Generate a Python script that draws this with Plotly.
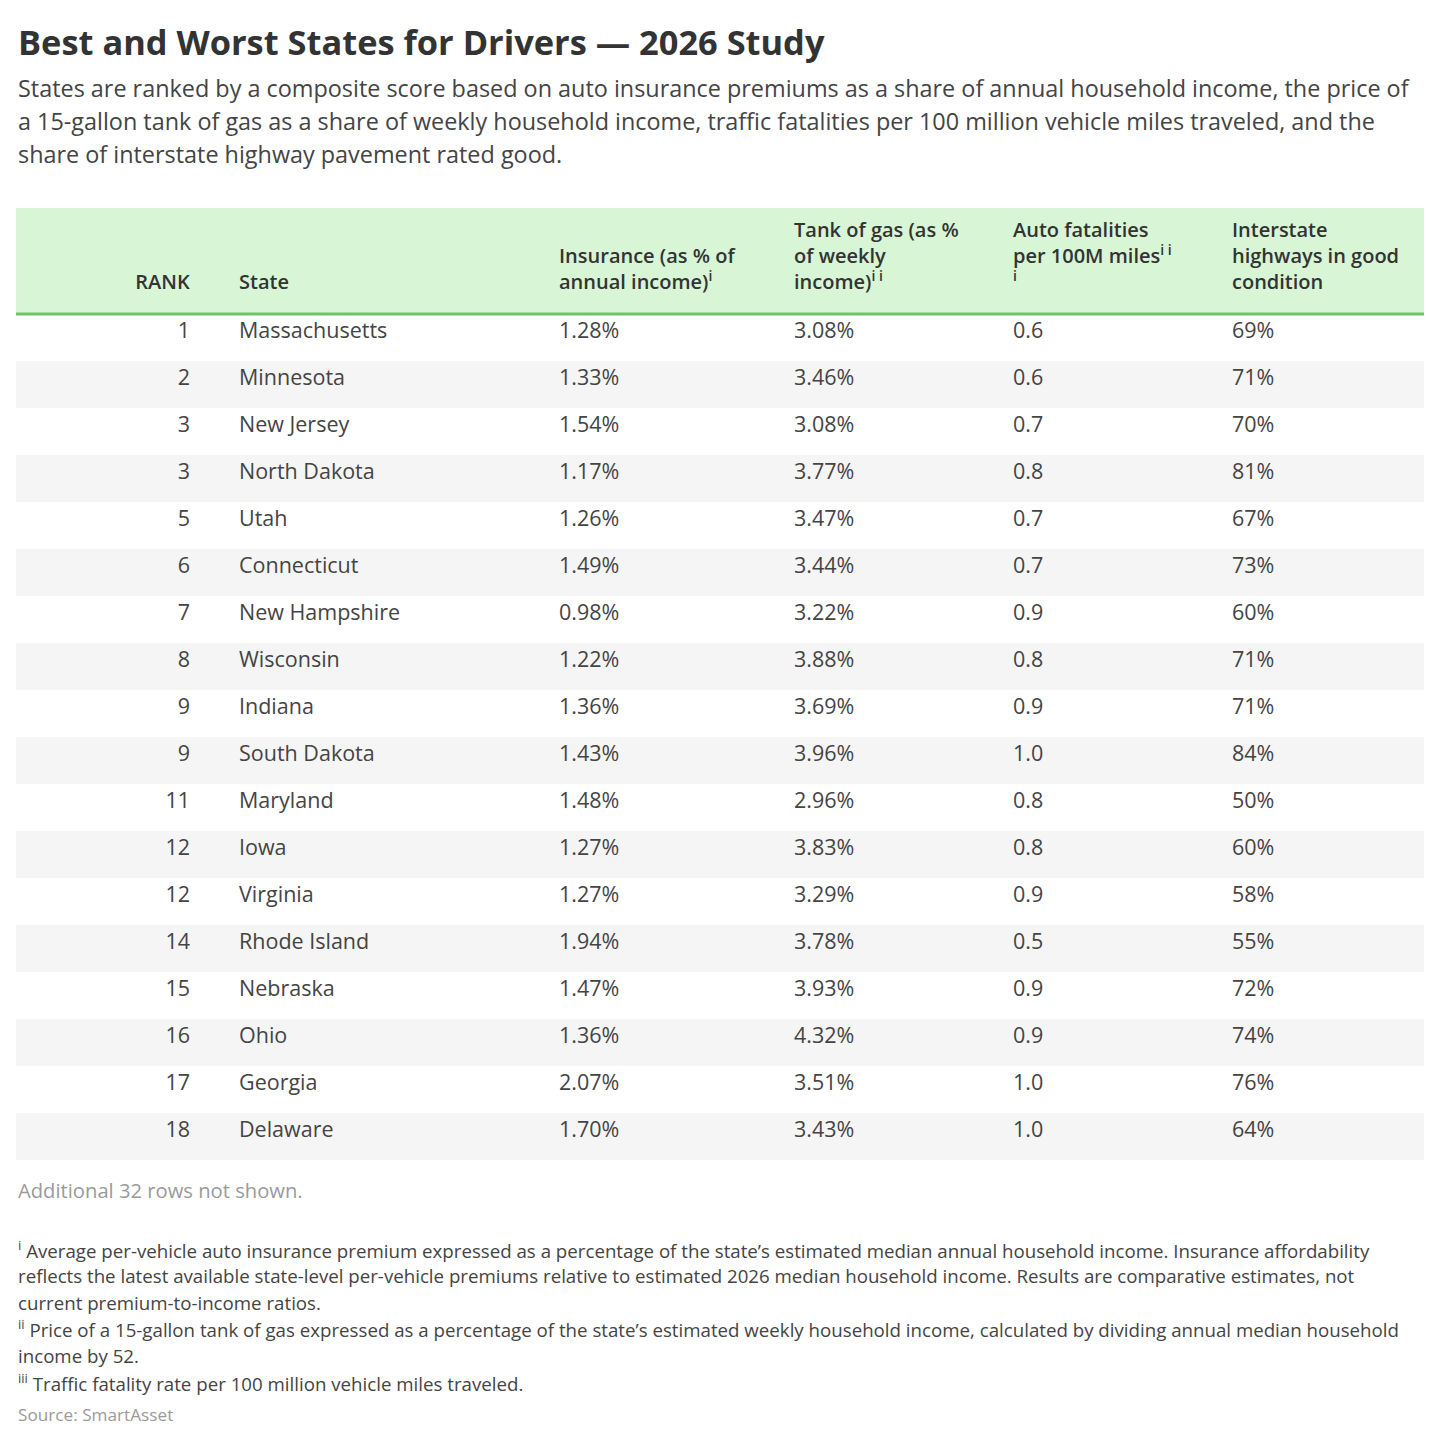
import plotly.graph_objects as go

ranks = [1, 2, 3, 3, 5, 6, 7, 8, 9, 9, 11, 12, 12, 14, 15, 16, 17, 18]
states = ["Massachusetts", "Minnesota", "New Jersey", "North Dakota", "Utah", "Connecticut",
          "New Hampshire", "Wisconsin", "Indiana", "South Dakota", "Maryland", "Iowa",
          "Virginia", "Rhode Island", "Nebraska", "Ohio", "Georgia", "Delaware"]
insurance = ["1.28%", "1.33%", "1.54%", "1.17%", "1.26%", "1.49%", "0.98%", "1.22%", "1.36%",
             "1.43%", "1.48%", "1.27%", "1.27%", "1.94%", "1.47%", "1.36%", "2.07%", "1.70%"]
gas = ["3.08%", "3.46%", "3.08%", "3.77%", "3.47%", "3.44%", "3.22%", "3.88%", "3.69%",
       "3.96%", "2.96%", "3.83%", "3.29%", "3.78%", "3.93%", "4.32%", "3.51%", "3.43%"]
fatalities = ["0.6", "0.6", "0.7", "0.8", "0.7", "0.7", "0.9", "0.8", "0.9",
              "1.0", "0.8", "0.8", "0.9", "0.5", "0.9", "0.9", "1.0", "1.0"]
highways = ["69%", "71%", "70%", "81%", "67%", "73%", "60%", "71%", "71%",
            "84%", "50%", "60%", "58%", "55%", "72%", "74%", "76%", "64%"]

NB = "\u00a0"
headers = [NB + "<br>" + NB + "<br>RANK", "", NB + "<br>" + NB + "<br>State",
           NB + "<br>Insurance (as % of<br>annual income)<sup>i</sup>",
           "Tank of gas (as %<br>of weekly<br>income)<sup>i i</sup>",
           "Auto fatalities<br>per 100M miles<sup>i i</sup><br><sup>i</sup>",
           "Interstate<br>highways in good<br>condition"]

subtitle = ["States are ranked by a composite score based on auto insurance premiums as a share of annual household income, the price of",
            "a 15-gallon tank of gas as a share of weekly household income, traffic fatalities per 100 million vehicle miles traveled, and the",
            "share of interstate highway pavement rated good."]
footnotes = ["<sup>i</sup> Average per-vehicle auto insurance premium expressed as a percentage of the state’s estimated median annual household income. Insurance affordability",
             "reflects the latest available state-level per-vehicle premiums relative to estimated 2026 median household income. Results are comparative estimates, not",
             "current premium-to-income ratios.",
             "<sup>ii</sup> Price of a 15-gallon tank of gas expressed as a percentage of the state’s estimated weekly household income, calculated by dividing annual median household",
             "income by 52.",
             "<sup>iii</sup> Traffic fatality rate per 100 million vehicle miles traveled."]

W, H = 1440, 1441
OX, OY = 8, 8  # page offset seen in render
n = len(states)
stripes = ["white" if i % 2 == 0 else "#f5f5f5" for i in range(n)]
row_h = 47
head_h = 106
top = 208 - OY
left = 16 - OX
right = 1424 - OX

fig = go.Figure(go.Table(
    domain=dict(x=[left / W, right / W], y=[1 - (top + head_h + row_h * n + 20) / H, 1 - top / H]),
    columnwidth=[182, 33, 320, 235, 219, 219, 200],
    header=dict(
        values=headers,
        fill_color="#d8f5d6",
        line=dict(color="#d8f5d6", width=0),
        align=["right", "left", "left", "left", "left", "left", "left"],
        font=dict(family="Open Sans", size=20, color="#333333", weight=600),
        height=head_h,
    ),
    cells=dict(
        values=[ranks, [""] * n, states, insurance, gas, fatalities, highways],
        fill_color=[stripes] * 7,
        line=dict(color="white", width=0),
        align=["right", "left", "left", "left", "left", "left", "left"],
        font=dict(family="Open Sans", size=21.5, color="#444444"),
        height=row_h,
    ),
))

yl = 1 - (top + head_h) / H
fig.add_shape(type="line", xref="paper", yref="paper",
              x0=left / W, x1=right / W, y0=yl, y1=yl,
              line=dict(color="#6cc36a", width=3))

def note(y, text, size, color, weight=400):
    # y is the text centre in reference pixels
    fig.add_annotation(xref="paper", yref="paper", x=(16 - OX) / W, y=1 - (y - OY) / H,
                       xanchor="left", yanchor="middle", align="left", showarrow=False,
                       text=text, font=dict(family="Open Sans", size=size, color=color, weight=weight))

note(41, "Best and Worst States for Drivers — 2026 Study", 34.4, "#333333", 700)
for i, line in enumerate(subtitle):
    note(88 + 33 * i, line, 23.4, "#444444")
note(1190, "Additional 32 rows not shown.", 20.2, "#9a9a9a")
for i, line in enumerate(footnotes):
    note(1249 + 26.6 * i, line, 18.7, "#444444")
note(1414, "Source: SmartAsset", 17.2, "#9a9a9a")

fig.update_layout(width=W, height=H, margin=dict(l=0, r=0, t=0, b=0),
                  paper_bgcolor="white", plot_bgcolor="white")
fig.write_html("out.html")
